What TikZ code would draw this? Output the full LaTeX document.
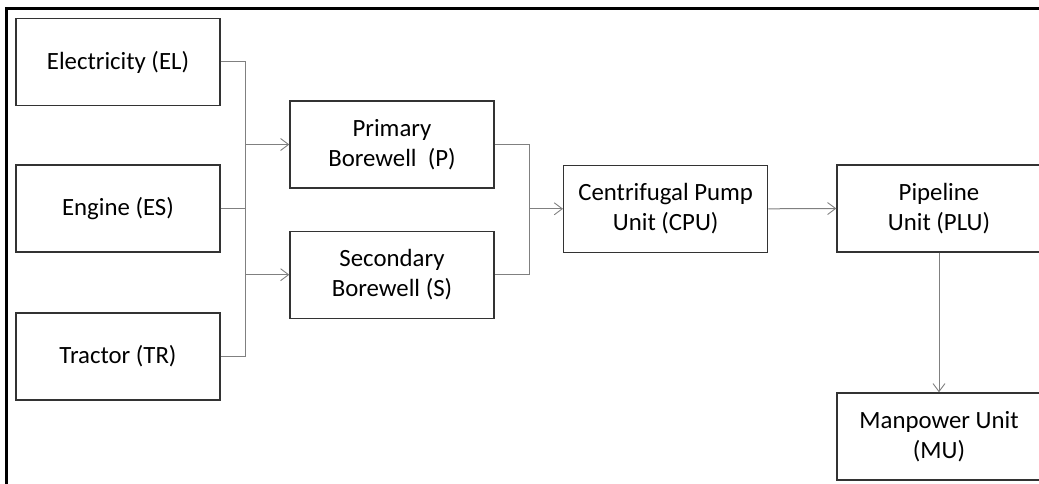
\documentclass[tikz,border=0pt]{standalone}
\usepackage{fontspec}
\setmainfont{Carlito}
\usetikzlibrary{arrows.meta}
\definecolor{boxline}{HTML}{333333}
\definecolor{conn}{HTML}{808080}
\begin{document}
\begin{tikzpicture}[x=1pt,y=-1pt,
  blockbox/.style={draw=boxline, line width=1.4pt, minimum width=204pt, minimum height=87pt,
    inner sep=0pt, align=center, font=\fontsize{24.8}{30}\selectfont, text=black},
  link/.style={draw=conn, line width=1pt},
  linkarrow/.style={link, -{Straight Barb[length=8pt,width=12pt,line width=0.9pt]}}]
\useasboundingbox (0,0) rectangle (1039,484);
\begin{scope}
\clip (0,0) rectangle (1039,484);
% frame
\draw[line width=2.6pt, black] (6.5,484) -- (6.5,8.5) -- (1045,8.5);
% nodes
\node[blockbox] (el) at (118,62) {Electricity (EL)};
\node[blockbox] (es) at (118,208.5) {Engine (ES)};
\node[blockbox] (tr) at (118,356.5) {Tractor (TR)};
\node[blockbox] (p) at (392,144.5) {Primary\\Borewell\ \ (P)};
\node[blockbox] (s) at (392,274.7) {Secondary\\Borewell (S)};
\node[blockbox] (cpu) at (665.7,208.8) {Centrifugal Pump\\Unit (CPU)};
\node[blockbox] (plu) at (939,208.5) {Pipeline\\Unit (PLU)};
\node[blockbox] (mu) at (939,436.5) {Manpower Unit\\(MU)};
% junction coordinates
\coordinate (jl) at (245.5,0);
\coordinate (jr) at (529,0);
% left bus
\draw[link] (el.east) -- (el.east -| jl) -- (tr.east -| jl) -- (tr.east);
\draw[link] (es.east) -- (es.east -| jl);
\draw[linkarrow] (p.west -| jl) -- (p.west);
\draw[linkarrow] (s.west -| jl) -- (s.west);
% right bus
\draw[link] (p.east) -- (p.east -| jr) -- (s.east -| jr) -- (s.east);
\draw[linkarrow] (cpu.west -| jr) -- (cpu.west);
\draw[linkarrow] (cpu.east) -- (plu.west);
\draw[linkarrow] (plu.south) -- (mu.north);
\end{scope}
\end{tikzpicture}
\end{document}
